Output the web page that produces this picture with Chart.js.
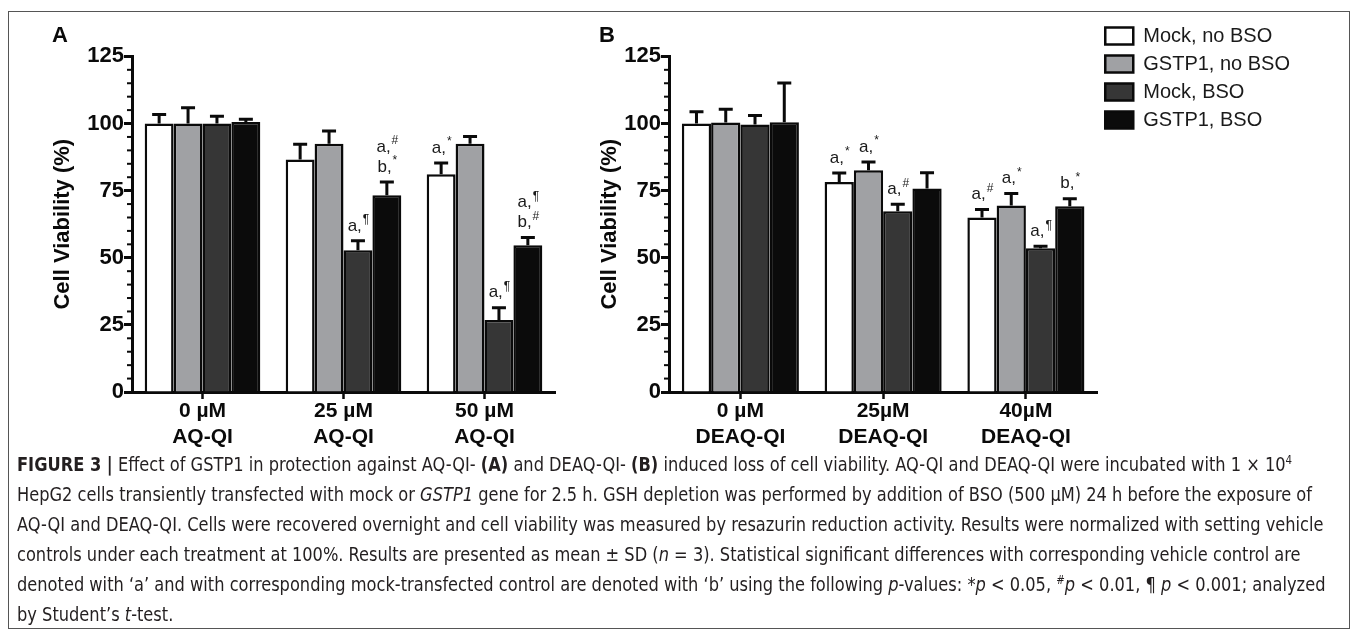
<!DOCTYPE html>
<html><head>
<meta charset="utf-8">
<title>Figure 3 - GSTP1 and cell viability</title>
<script src="https://cdn.jsdelivr.net/npm/chart.js"></script>
<style>
  body { margin: 0; background: #fff; font-family: 'Liberation Sans', Arial, sans-serif; overflow: hidden; }
  .frame { position: absolute; left: 8px; top: 11px; width: 1340px; height: 616px; border: 1px solid #555; }
  #chartA { position: absolute; left: 0; top: 0; }
  #chartB { position: absolute; left: 560px; top: 0; }
  .caption {
    position: absolute; left: 17px; top: 449px;
    font-family: 'Liberation Sans Narrow', 'DejaVu Sans Condensed', sans-serif;
    font-size: 19px; line-height: 30px; color: #231f20;
    white-space: nowrap; transform-origin: 0 0;
  }
  .caption div { display: table; }
  .caption sup { font-size: 12px; line-height: 0; }
</style>
</head>
<body>
  <div class="frame"></div>
  <canvas id="chartA" width="565" height="460"></canvas>
  <canvas id="chartB" width="797" height="460"></canvas>

  <div class="caption" id="caption">
    <div><b>FIGURE 3 |</b> Effect of GSTP1 in protection against AQ-QI- <b>(A)</b> and DEAQ-QI- <b>(B)</b> induced loss of cell viability. AQ-QI and DEAQ-QI were incubated with 1 × 10<sup>4</sup></div>
    <div id="capLine2">HepG2 cells transiently transfected with mock or <i>GSTP1</i> gene for 2.5 h. GSH depletion was performed by addition of BSO (500 µM) 24 h before the exposure of</div>
    <div>AQ-QI and DEAQ-QI. Cells were recovered overnight and cell viability was measured by resazurin reduction activity. Results were normalized with setting vehicle</div>
    <div>controls under each treatment at 100%. Results are presented as mean ± SD (<i>n</i> = 3). Statistical significant differences with corresponding vehicle control are</div>
    <div>denoted with ‘a’ and with corresponding mock-transfected control are denoted with ‘b’ using the following <i>p</i>-values: *<i>p</i> &lt; 0.05, <sup>#</sup><i>p</i> &lt; 0.01, ¶ <i>p</i> &lt; 0.001; analyzed</div>
    <div>by Student’s <i>t</i>-test.</div>
  </div>

  <script>
    // series names (legend order)
    const seriesNames = ['Mock, no BSO', 'GSTP1, no BSO', 'Mock, BSO', 'GSTP1, BSO'];

    // Panel A - AQ-QI
    const catsA = [['0 µM', 'AQ-QI'], ['25 µM', 'AQ-QI'], ['50 µM', 'AQ-QI']];
    const mockNoBsoA = [100.0, 86.6, 81.1];
    const gstpNoBsoA = [100.0, 92.5, 92.5];
    const mockBsoA   = [100.0, 52.8, 26.8];
    const gstpBsoA   = [100.6, 73.3, 54.7];
    const sdMockNoBsoA = [3.4, 5.7, 4.2];
    const sdGstpNoBsoA = [5.9, 4.7, 2.7];
    const sdMockBsoA   = [2.7, 3.5, 4.6];
    const sdGstpBsoA   = [1.0, 4.9, 2.8];
    const sigMockNoBsoA = ['', '', 'a,*'];
    const sigGstpNoBsoA = ['', '', ''];
    const sigMockBsoA   = ['', 'a,¶', 'a,¶'];
    const sigGstpBsoA   = ['', 'a,#|b,*', 'a,¶|b,#'];

    // Panel B - DEAQ-QI
    const catsB = [['0 µM', 'DEAQ-QI'], ['25µM', 'DEAQ-QI'], ['40µM', 'DEAQ-QI']];
    const mockNoBsoB = [100.0, 78.2, 65.0];
    const gstpNoBsoB = [100.4, 82.6, 69.5];
    const mockBsoB   = [99.6, 67.3, 53.5];
    const gstpBsoB   = [100.5, 75.8, 69.2];
    const sdMockNoBsoB = [4.4, 3.4, 3.0];
    const sdGstpNoBsoB = [4.9, 3.1, 4.4];
    const sdMockBsoB   = [3.4, 2.6, 0.8];
    const sdGstpBsoB   = [14.6, 5.9, 2.8];
    const sigMockNoBsoB = ['', 'a,*', 'a,#'];
    const sigGstpNoBsoB = ['', 'a,*', 'a,*'];
    const sigMockBsoB   = ['', 'a,#', 'a,¶'];
    const sigGstpBsoB   = ['', '', 'b,*'];

    const yMin = 0, yMax = 125, yStep = 25, yMinorStep = 5;

    const fills = ['#ffffff', '#a0a1a4', '#363636', '#0b0b0b'];
    const ink = '#0a0a0a';
    Chart.defaults.font.family = "'Liberation Sans', Arial, sans-serif";

    // "a,*" -> "a," + superscript "*", lines split by "|"
    function drawSig(ctx, text, cx, baseY) {
      if (!text) return;
      const lines = text.split('|');
      lines.forEach((line, k) => {
        const y = baseY - (lines.length - 1 - k) * 20;
        const cut = line.indexOf(',') + 1;
        const main = line.slice(0, cut), sup = line.slice(cut);
        ctx.font = "17px 'Liberation Sans', Arial, sans-serif";
        const wMain = ctx.measureText(main).width;
        ctx.font = "12px 'Liberation Sans', Arial, sans-serif";
        const wSup = ctx.measureText(sup).width;
        const x0 = cx - (wMain + wSup) / 2;
        ctx.fillStyle = '#1a1a1a';
        ctx.textAlign = 'left';
        ctx.textBaseline = 'middle';
        ctx.font = "17px 'Liberation Sans', Arial, sans-serif";
        ctx.fillText(main, x0, y);
        ctx.font = "12px 'Liberation Sans', Arial, sans-serif";
        ctx.fillText(sup, x0 + wMain + 1, y - 6);
      });
    }

    const errorBars = {
      id: 'errorBars',
      afterDatasetsDraw(chart) {
        const ctx = chart.ctx, y = chart.scales.y;
        ctx.save();
        chart.data.datasets.forEach((ds, i) => {
          chart.getDatasetMeta(i).data.forEach((bar, j) => {
            const top = y.getPixelForValue(ds.data[j] + ds.sd[j]);
            ctx.strokeStyle = ink;
            ctx.lineWidth = 3;
            ctx.beginPath();
            ctx.moveTo(bar.x, bar.y);
            ctx.lineTo(bar.x, top);
            ctx.moveTo(bar.x - 7, top);
            ctx.lineTo(bar.x + 7, top);
            ctx.stroke();
            drawSig(ctx, ds.sig[j], bar.x, top - 15);
          });
        });
        ctx.restore();
      }
    };

    const minorTicks = {
      id: 'minorTicks',
      afterDraw(chart) {
        const y = chart.scales.y, ctx = chart.ctx;
        ctx.save();
        ctx.strokeStyle = ink;
        ctx.lineWidth = 2;
        for (let v = yMin; v <= yMax; v += yMinorStep) {
          if (v % yStep === 0) continue;
          const py = y.getPixelForValue(v);
          ctx.beginPath();
          ctx.moveTo(y.right - 5, py);
          ctx.lineTo(y.right, py);
          ctx.stroke();
        }
        ctx.restore();
      }
    };

    function buildDatasets(means, sds, sigs) {
      return seriesNames.map((name, i) => ({
        label: name,
        data: means[i],
        sd: sds[i],
        sig: sigs[i],
        backgroundColor: fills[i],
        borderColor: ink,
        borderWidth: 2.5,
        borderSkipped: 'bottom',
        barPercentage: 1,
        categoryPercentage: 0.82
      }));
    }

    function makeChart(id, letter, cats, datasets, pad, yWidth, withLegend) {
      return new Chart(document.getElementById(id), {
        type: 'bar',
        data: { labels: cats, datasets: datasets },
        plugins: [errorBars, minorTicks],
        options: {
          responsive: false,
          animation: false,
          layout: { padding: pad },
          plugins: {
            tooltip: { enabled: false },
            title: {
              display: true, text: letter, align: 'start', color: ink,
              font: { size: 22, weight: 'bold' },
              padding: { top: 5, bottom: 7 }
            },
            legend: withLegend ? {
              position: 'right', align: 'start', maxWidth: 320,
              labels: { boxWidth: 28, boxHeight: 17, padding: 8, color: '#1a1a1a', font: { size: 20 } }
            } : { display: false }
          },
          scales: {
            x: {
              grid: { drawOnChartArea: false, offset: false, tickLength: 7, tickWidth: 2.5, tickColor: ink },
              border: { color: ink, width: 3 },
              ticks: { color: ink, padding: 0, maxRotation: 0, autoSkip: false, font: { size: 21, weight: 'bold' } },
              afterFit(s) { s.height = 68; }
            },
            y: {
              min: yMin, max: yMax,
              grid: { drawOnChartArea: false, tickLength: 8, tickWidth: 3, tickColor: ink },
              border: { color: ink, width: 3 },
              ticks: { stepSize: yStep, color: ink, padding: 0, font: { size: 22, weight: 'bold' } },
              title: {
                display: true, text: 'Cell Viability (%)', color: ink,
                font: { size: 22, weight: 'bold', lineHeight: 1 },
                padding: { top: 0, bottom: 0 }
              },
              afterFit(s) { s.width = yWidth; }
            }
          }
        }
      });
    }

    makeChart('chartA', 'A', catsA,
      buildDatasets([mockNoBsoA, gstpNoBsoA, mockBsoA, gstpBsoA],
                    [sdMockNoBsoA, sdGstpNoBsoA, sdMockBsoA, sdGstpBsoA],
                    [sigMockNoBsoA, sigGstpNoBsoA, sigMockBsoA, sigGstpBsoA]),
      { left: 52, top: 18, right: 10, bottom: 0 }, 80, false);

    makeChart('chartB', 'B', catsB,
      buildDatasets([mockNoBsoB, gstpNoBsoB, mockBsoB, gstpBsoB],
                    [sdMockNoBsoB, sdGstpNoBsoB, sdMockBsoB, sdGstpBsoB],
                    [sigMockNoBsoB, sigGstpNoBsoB, sigMockBsoB, sigGstpBsoB]),
      { left: 39, top: 18, right: 57, bottom: 0 }, 70, true);

    // squeeze the caption to the column width of the figure
    const cap = document.getElementById('caption');
    const w2 = document.getElementById('capLine2').getBoundingClientRect().width;
    cap.style.transform = 'scaleX(' + (1295 / w2) + ')';
  </script>
</body></html>
